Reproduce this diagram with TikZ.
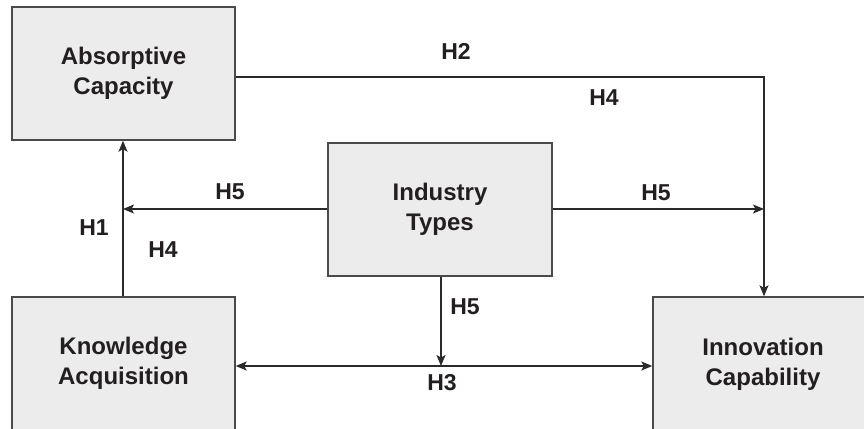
\documentclass[tikz,border=0pt]{standalone}
\usepackage{fontspec}
\setmainfont{Liberation Sans}
\usetikzlibrary{arrows.meta}
\definecolor{ink}{HTML}{231F20}
\definecolor{boxfill}{HTML}{ECECEC}
\definecolor{boxline}{HTML}{4A4A4A}
\definecolor{wire}{HTML}{2A2A2A}
\tikzset{
  construct/.style={draw=boxline, line width=1.4pt, fill=boxfill, text=ink,
    align=center, inner sep=0pt,
    font=\fontsize{24}{30}\selectfont\bfseries},
  hyp/.style={text=ink, inner sep=0pt, font=\fontsize{23}{28}\selectfont\bfseries},
  link/.style={draw=wire, line width=1.3pt,
    -{Stealth[length=11pt,width=9pt,inset=2.5pt]}},
  twoway/.style={draw=wire, line width=1.3pt,
    {Stealth[length=11pt,width=9pt,inset=2.5pt]}-{Stealth[length=11pt,width=9pt,inset=2.5pt]}}
}
\begin{document}
\begin{tikzpicture}[x=1pt,y=-1pt]
\useasboundingbox (0,0) rectangle (864,428);
\clip (0,0) rectangle (864,428);
\fill[white] (0,0) rectangle (864,428);

% constructs
\node[construct, minimum width=223pt, minimum height=133pt] (ac) at (123.5,73.5) {Absorptive\\Capacity};
\node[construct, minimum width=224pt, minimum height=133pt] (it) at (440,209.5) {Industry\\Types};
\node[construct, minimum width=223pt, minimum height=133pt] (ka) at (123.5,363.5) {Knowledge\\Acquisition};
\node[construct, minimum width=220pt, minimum height=134pt] (ic) at (763,364) {Innovation\\Capability};

% junction points
\coordinate (topcorner) at (764,77);
\coordinate (leftmeet) at (123,209);
\coordinate (rightmeet) at (764,209);
\coordinate (midmeet) at (441,366);

% paths
\draw[link] (ka.north -| leftmeet) -- (ac.south -| leftmeet);
\draw[link] (ac.east |- topcorner) -- (topcorner) -- (ic.north -| topcorner);
\draw[link] (it.west |- leftmeet) -- (leftmeet);
\draw[link] (it.east |- rightmeet) -- (rightmeet);
\draw[link] (it.south -| midmeet) -- (midmeet);
\draw[twoway] (ka.east |- midmeet) -- (ic.west |- midmeet);

% hypothesis labels
\node[hyp] (h2) at (456,51) {H2};
\node[hyp] (h4a) at (604,97.5) {H4};
\node[hyp] (h5a) at (230,192) {H5};
\node[hyp] (h1) at (94,228) {H1};
\node[hyp] (h4b) at (163,250) {H4};
\node[hyp] (h5b) at (656,192.5) {H5};
\node[hyp] (h5c) at (465,307) {H5};
\node[hyp] (h3) at (442,383) {H3};
\end{tikzpicture}
\end{document}
